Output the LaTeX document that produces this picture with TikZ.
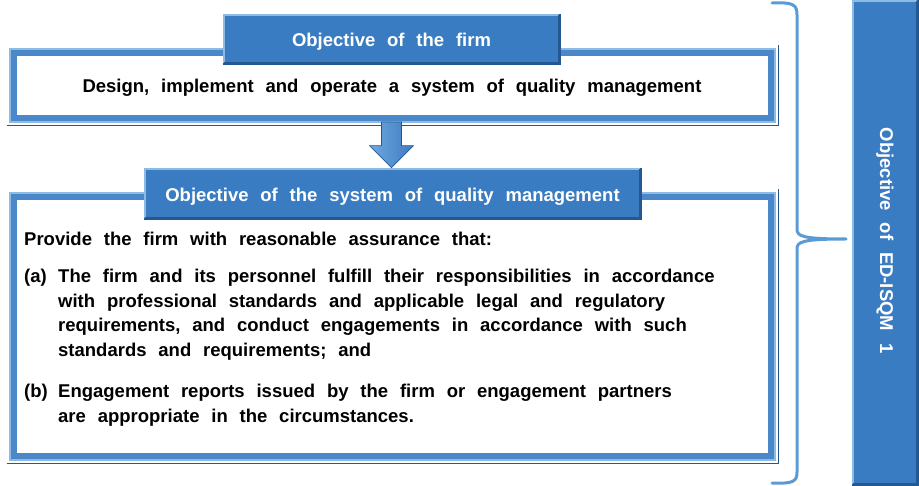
\documentclass[tikz,border=0pt]{standalone}
\usepackage{fontspec}
\setmainfont{Liberation Sans}[WordSpace=2.3]
\usetikzlibrary{calc}
\definecolor{hdrblue}{HTML}{3A7CC1}
\definecolor{frameblue}{HTML}{4A88CA}
\definecolor{darkblue}{HTML}{24588F}
\definecolor{lightblue}{HTML}{8DBBE6}
\definecolor{bracecol}{HTML}{5B9BD5}
\definecolor{arrowlight}{HTML}{6FA8E0}
\definecolor{arrowdark}{HTML}{3E7CC0}
\newcommand{\txtfont}{\bfseries\fontsize{18.5}{24.7}\selectfont}
\begin{document}
\begin{tikzpicture}[x=1pt,y=-1pt,
  frame/.style={draw=frameblue, line width=7pt, fill=white, inner sep=0pt},
  header/.style={fill=hdrblue, draw=darkblue, line width=0.8pt, inner sep=0pt},
  hdrtext/.style={text=white, font=\txtfont, inner sep=0pt, anchor=base},
  bodytext/.style={anchor=base west, inner sep=0pt, font=\txtfont},
  bracestyle/.style={draw=bracecol, line width=3pt, line cap=round, line join=round}]
\useasboundingbox (0,0) rectangle (919,486);

% frames
\node[frame, minimum width=758, minimum height=66] (f1) at (392.5,85.5) {};
\draw[lightblue, line width=1.2pt] (f1.north west) rectangle (f1.south east);
\draw[darkblue, line width=1pt] ($(f1.south west)+(-3.5,3.5)$) -| ($(f1.north east)+(3.5,-3.5)$);
\node[frame, minimum width=758, minimum height=260] (f2) at (392.5,326.5) {};
\draw[lightblue, line width=1.2pt] (f2.north west) rectangle (f2.south east);
\draw[darkblue, line width=1pt] ($(f2.south west)+(-3.5,3.5)$) -| ($(f2.north east)+(3.5,-3.5)$);

% headers
\node[header, minimum width=337, minimum height=50] (h1) at (391.5,39) {};
\draw[lightblue, line width=1.5pt] ($(h1.south west)+(1.5,-1.5)$) |- ($(h1.north east)+(-1.5,1.5)$);
\draw[darkblue, line width=2pt] ($(h1.south west)+(1.5,-1.5)$) -| ($(h1.north east)+(-1.5,1.5)$);
\node[hdrtext] (h1t) at ($(h1.center)+(0,8)$) {Objective of the firm};

\node[header, minimum width=497, minimum height=51] (h2) at (392.5,193.5) {};
\draw[lightblue, line width=1.5pt] ($(h2.south west)+(1.5,-1.5)$) |- ($(h2.north east)+(-1.5,1.5)$);
\draw[darkblue, line width=2pt] ($(h2.south west)+(1.5,-1.5)$) -| ($(h2.north east)+(-1.5,1.5)$);
\node[hdrtext] (h2t) at ($(h2.center)+(0,8.5)$) {Objective of the system of quality management};

% arrow between boxes
\coordinate (atop) at ($(f1.south)+(-1,0)$);
\coordinate (atip) at ($(h2.north)+(-1,0)$);
\shade[left color=arrowlight, right color=arrowdark, draw=darkblue, line width=0.6pt]
  ($(atop)+(-10,0)$) -- ($(atip)+(-10,-22)$) -- ($(atip)+(-22,-22)$) -- (atip)
  -- ($(atip)+(22,-22)$) -- ($(atip)+(10,-22)$) -- ($(atop)+(10,0)$) -- cycle;

% box 1 text
\node[anchor=base, inner sep=0pt, font=\txtfont] (t1) at (392,93) {Design, implement and operate a system of quality management};

% body text
\node[bodytext] (p0) at (24,245.5) {Provide the firm with reasonable assurance that:};
\node[bodytext] (la) at (24,282.5) {(a)};
\node[bodytext] (a1) at (58,282.5) {The firm and its personnel fulfill their responsibilities in accordance};
\node[bodytext] (a2) at (58,307.2) {with professional standards and applicable legal and regulatory};
\node[bodytext] (a3) at (58,331.9) {requirements, and conduct engagements in accordance with such};
\node[bodytext] (a4) at (58,356.6) {standards and requirements; and};
\node[bodytext] (lb) at (24,397.5) {(b)};
\node[bodytext] (b1) at (58,397.5) {Engagement reports issued by the firm or engagement partners};
\node[bodytext] (b2) at (58,422.2) {are appropriate in the circumstances.};

% brace
\draw[bracestyle] (772,3) .. controls (794,2) and (797,5) .. (797,15) -- (797,229)
  .. controls (797,236) and (801,239) .. (846,239)
  .. controls (801,239) and (797,242) .. (797,249) -- (797,472)
  .. controls (797,481) and (794,484) .. (772,483);

% side box
\node[header, minimum width=66, minimum height=485] (side) at (885,242.5) {};
\draw[lightblue, line width=1.5pt] ($(side.south west)+(1.5,-1.5)$) |- ($(side.north east)+(-1.5,1.5)$);
\draw[darkblue, line width=2pt] ($(side.south west)+(1.5,-1.5)$) -| ($(side.north east)+(-1.5,1.5)$);
\node[rotate=-90, text=white, font=\txtfont, inner sep=0pt] (sidet) at (885,240.5) {Objective of ED-ISQM 1};
\end{tikzpicture}
\end{document}
